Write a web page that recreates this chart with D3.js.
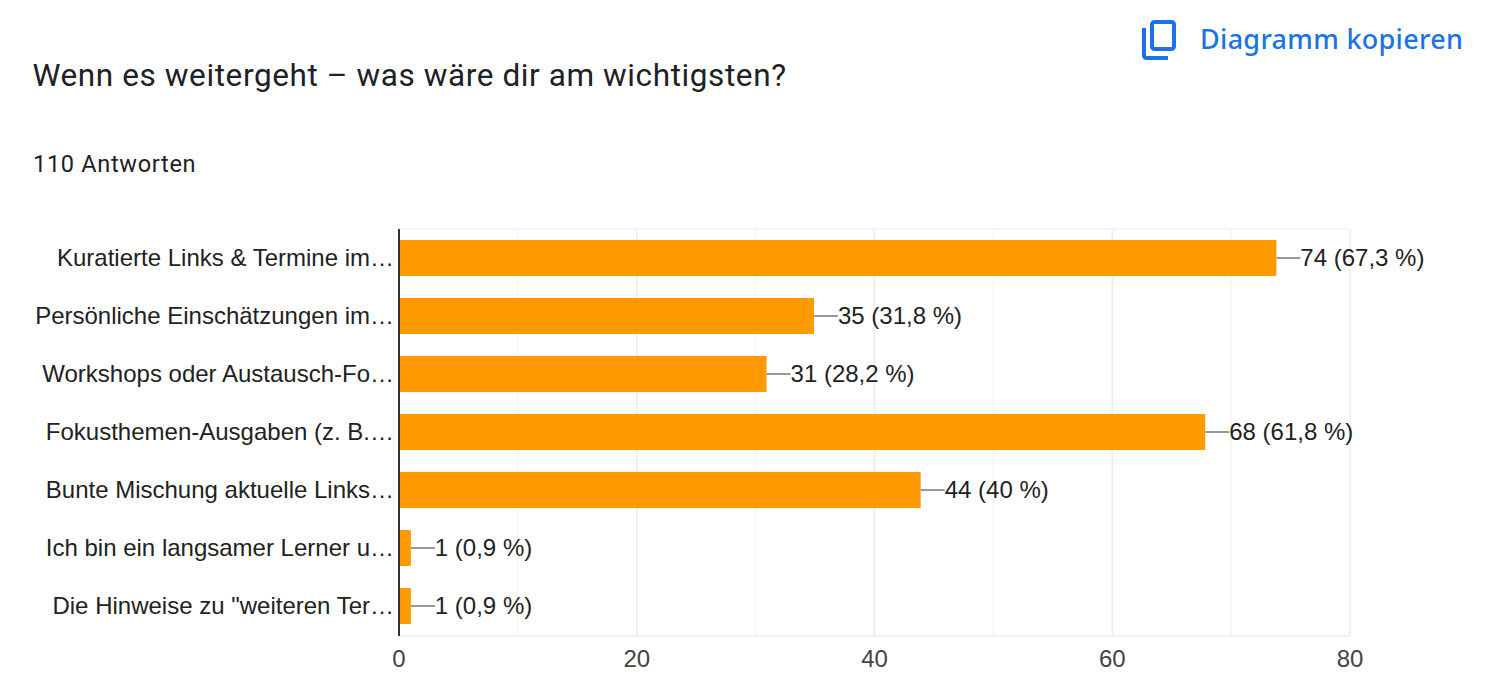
<!DOCTYPE html>
<html lang="de">
<head>
<meta charset="utf-8">
<style>
html,body{margin:0;padding:0;background:#fff;}
svg{display:block;}
</style>
<script src="https://cdn.jsdelivr.net/npm/d3@7/dist/d3.min.js"></script>
</head>
<body>
<svg id="chart" width="1486" height="698"></svg>
<script>
const categories = [
  "Kuratierte Links & Termine im…",
  "Persönliche Einschätzungen im…",
  "Workshops oder Austausch-Fo…",
  "Fokusthemen-Ausgaben (z. B.…",
  "Bunte Mischung aktuelle Links…",
  "Ich bin ein langsamer Lerner u…",
  "Die Hinweise zu \"weiteren Ter…"
];
const counts = [74, 35, 31, 68, 44, 1, 1];
const percents = ["67,3", "31,8", "28,2", "61,8", "40", "0,9", "0,9"];
const majorTicks = [0, 20, 40, 60, 80];
const minorTicks = [10, 30, 50, 70];

const sansLabel = "Liberation Sans, Arial, sans-serif";
const sansHead = "Roboto, sans-serif";
const svg = d3.select("#chart");

const plot = {left: 399, right: 1350, top: 229, bottom: 636};
// Grid and tick positions; the bars run on a marginally tighter scale
const x = d3.scaleLinear().domain([0, 80]).range([plot.left, plot.right]);
const xBar = d3.scaleLinear().domain([0, 80]).range([plot.left, 1347.5]);
const y = d3.scaleBand().domain(categories.map((_, i) => i))
  .range([plot.top, plot.top + 406]).paddingInner(0.38).paddingOuter(0.19);

// Heading, response count and copy action
svg.append("text").attr("x", 32.5).attr("y", 86)
  .attr("font-family", sansHead).attr("font-size", 31.5).attr("fill", "#202124")
  .attr("letter-spacing", 0.6)
  .text("Wenn es weitergeht – was wäre dir am wichtigsten?");
svg.append("text").attr("x", 33).attr("y", 171.5)
  .attr("font-family", sansHead).attr("font-size", 23.5).attr("fill", "#202124")
  .attr("letter-spacing", 0.7)
  .text("110 Antworten");

const icon = svg.append("g").attr("fill", "none").attr("stroke", "#1a73e8")
  .attr("stroke-width", 4).attr("stroke-linejoin", "round");
icon.append("rect").attr("x", 1152).attr("y", 22).attr("width", 22).attr("height", 27).attr("rx", 2.5);
icon.append("path").attr("d", "M1144 28V55.5a2.5 2.5 0 0 0 2.5 2.5H1168");
svg.append("text").attr("x", 1200).attr("y", 49)
  .attr("font-family", "'Noto Sans', sans-serif").attr("font-size", 27).attr("font-weight", 500)
  .attr("fill", "#1a73e8").attr("letter-spacing", 0.3)
  .text("Diagramm kopieren");

// Gridlines: major, then the lighter midpoints
const grid = svg.append("g");
grid.selectAll(".minor").data(minorTicks).join("line").attr("class", "minor")
  .attr("x1", d => x(d)).attr("x2", d => x(d)).attr("y1", plot.top).attr("y2", plot.bottom)
  .attr("stroke", "#f5f5f5").attr("stroke-width", 1.5);
grid.selectAll(".major").data(majorTicks.slice(1)).join("line").attr("class", "major")
  .attr("x1", d => x(d)).attr("x2", d => x(d)).attr("y1", plot.top).attr("y2", plot.bottom)
  .attr("stroke", "#ececec").attr("stroke-width", 1.5);
grid.append("line").attr("x1", plot.left).attr("x2", plot.right).attr("y1", plot.top).attr("y2", plot.top)
  .attr("stroke", "#f3f3f3").attr("stroke-width", 1.5);
grid.append("line").attr("x1", plot.left).attr("x2", plot.right).attr("y1", plot.bottom).attr("y2", plot.bottom)
  .attr("stroke", "#ececec").attr("stroke-width", 1.5);

// Bars with leader lines and value labels
svg.selectAll(".bar").data(counts).join("rect").attr("class", "bar")
  .attr("x", xBar(0)).attr("y", (_, i) => y(i))
  .attr("width", d => xBar(d) - xBar(0)).attr("height", y.bandwidth())
  .attr("fill", "#ff9900");
svg.selectAll(".leader").data(counts).join("line").attr("class", "leader")
  .attr("x1", d => xBar(d)).attr("x2", d => xBar(d) + 24)
  .attr("y1", (_, i) => y(i) + y.bandwidth() / 2).attr("y2", (_, i) => y(i) + y.bandwidth() / 2)
  .attr("stroke", "#999").attr("stroke-width", 2);
svg.selectAll(".value").data(counts).join("text").attr("class", "value")
  .attr("x", d => xBar(d) + 24).attr("y", (_, i) => y(i) + y.bandwidth() / 2 + 7.5)
  .attr("font-family", sansLabel).attr("font-size", 24).attr("fill", "#222")
  .text((d, i) => `${d} (${percents[i]} %)`);

// Category labels
svg.selectAll(".cat").data(categories).join("text").attr("class", "cat")
  .attr("x", plot.left - 5).attr("y", (_, i) => y(i) + y.bandwidth() / 2 + 7.5)
  .attr("text-anchor", "end")
  .attr("font-family", sansLabel).attr("font-size", 24).attr("fill", "#222")
  .text(d => d);

// Baseline and value axis
svg.append("line").attr("x1", x(0)).attr("x2", x(0)).attr("y1", plot.top).attr("y2", plot.bottom)
  .attr("stroke", "#333").attr("stroke-width", 2);
const axis = svg.append("g").attr("transform", `translate(-0.5,${plot.bottom})`)
  .call(d3.axisBottom(x).tickValues(majorTicks).tickSize(0).tickPadding(14));
axis.select(".domain").remove();
axis.selectAll("text").attr("font-family", sansLabel).attr("font-size", 24).attr("fill", "#444");
</script>
</body>
</html>
